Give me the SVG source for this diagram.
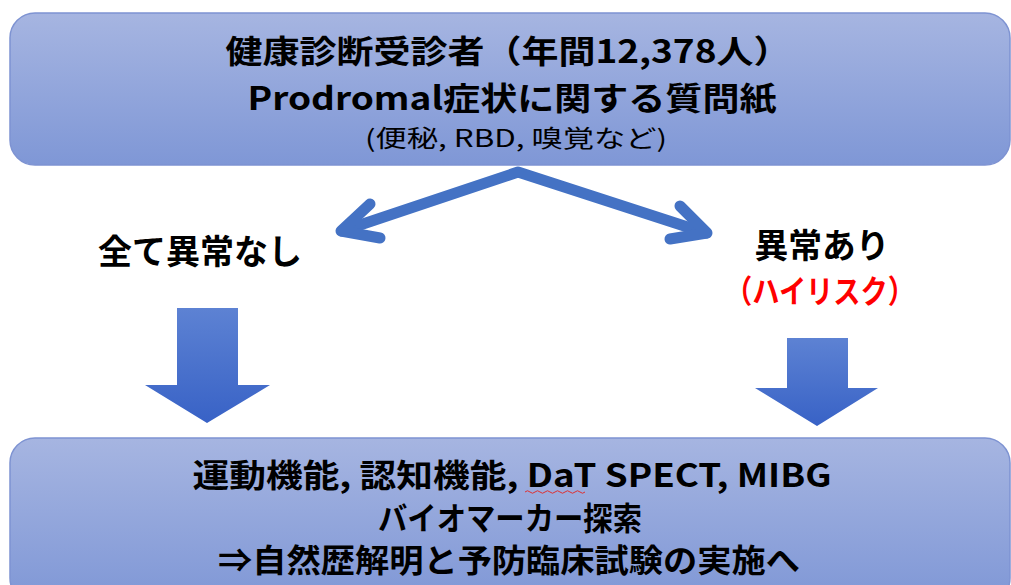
<svg xmlns="http://www.w3.org/2000/svg" width="1011" height="585" viewBox="0 0 1011 585">
  <defs>
    <linearGradient id="boxGrad" x1="0" y1="0" x2="0" y2="1">
      <stop offset="0" stop-color="#a6b5e1"/>
      <stop offset="1" stop-color="#7f97d6"/>
    </linearGradient>
    <linearGradient id="arrowGrad" x1="0" y1="0" x2="0" y2="1">
      <stop offset="0" stop-color="#5d82d3"/>
      <stop offset="1" stop-color="#3862c6"/>
    </linearGradient>
    <style>
      .box { fill: url(#boxGrad); stroke: #7e93d2; stroke-width: 1.5; }
      .jp { font-family: "Noto Sans CJK JP", "Noto Sans", sans-serif; font-weight: 700; fill: #000; text-anchor: middle; }
      .jpr { font-family: "Noto Sans CJK JP", "Noto Sans", sans-serif; font-weight: 400; fill: #000; text-anchor: middle; }
      .red { fill: #ff0000; }
      .chev { fill: none; stroke: #4472c4; stroke-width: 11; stroke-linecap: round; stroke-linejoin: round; }
      .block { fill: url(#arrowGrad); }
    </style>
  </defs>

  <rect width="1011" height="585" fill="#ffffff"/>

  <g id="node-top">
    <rect class="box" x="10" y="13" width="1000" height="152" rx="25" ry="25"/>
    <text class="jp" x="508" y="63" font-size="32" textLength="565" lengthAdjust="spacingAndGlyphs">健康診断受診者（年間12,378人）</text>
    <text class="jp" x="512" y="110" font-size="32" textLength="529" lengthAdjust="spacingAndGlyphs">Prodromal症状に関する質問紙</text>
    <text class="jpr" x="516" y="147" font-size="24" textLength="302" lengthAdjust="spacingAndGlyphs">(便秘, RBD, 嗅覚など)</text>
  </g>

  <g id="node-normal">
    <text class="jp" x="200" y="264" font-size="34" textLength="204" lengthAdjust="spacingAndGlyphs">全て異常なし</text>
  </g>

  <g id="node-abnormal">
    <text class="jp" x="822" y="258" font-size="34" textLength="135" lengthAdjust="spacingAndGlyphs">異常あり</text>
    <text class="jp red" x="820" y="303" font-size="32" textLength="190" lengthAdjust="spacingAndGlyphs">（ハイリスク）</text>
  </g>

  <g id="node-bottom">
    <rect class="box" x="10" y="438" width="1000" height="165" rx="25" ry="25"/>
    <text class="jp" x="512" y="487" font-size="32" textLength="639" lengthAdjust="spacingAndGlyphs">運動機能, 認知機能, DaT SPECT, MIBG</text>
    <path d="M525 492 q2.5 -2.5 5 0 t5 0 t5 0 t5 0 t5 0 t5 0 t5 0 t5 0 t5 0 t5 0 t5 0 t5 0" fill="none" stroke="#e03030" stroke-width="1"/>
    <text class="jp" x="510" y="530" font-size="32" textLength="264" lengthAdjust="spacingAndGlyphs">バイオマーカー探索</text>
    <text class="jp" x="509" y="572" font-size="32" textLength="582" lengthAdjust="spacingAndGlyphs">⇒自然歴解明と予防臨床試験の実施へ</text>
  </g>

  <g id="connectors">
    <path class="chev" d="M342 231 L518 172 L706 233"/>
    <path class="chev" d="M370 204 L341 231 L380 238"/>
    <path class="chev" d="M680 206 L707 233 L670 239"/>
    <polygon class="block" points="177,308 238,308 238,385 270,385 207,423 145,385 177,385"/>
    <polygon class="block" points="787,338 848,338 848,388 878,388 817,426 755,388 787,388"/>
  </g>
</svg>
